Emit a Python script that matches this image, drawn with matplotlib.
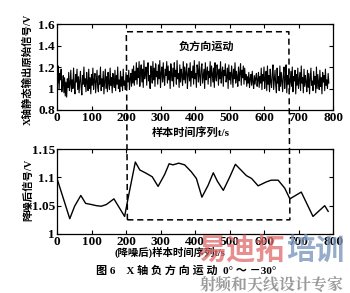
import matplotlib
matplotlib.use("Agg")
import matplotlib.pyplot as plt
from matplotlib.lines import Line2D

# ---- data ----
raw_step = 2
raw_values = [
    1.19, 1.05, 1.21, 0.99, 1.14, 1.08, 1.18, 0.97, 1.03, 1.12,
    0.96, 1.10, 0.93, 1.06, 0.92, 1.09, 1.01, 1.15, 0.98, 1.04,
    1.17, 0.97, 1.08, 1.00, 1.19, 1.03, 0.95, 1.13, 1.06, 1.18,
    0.99, 1.11, 0.96, 1.07, 1.16, 1.01, 0.94, 1.12, 1.04, 1.20,
    1.02, 1.09, 0.97, 1.15, 1.05, 0.98, 1.18, 1.00, 1.10, 0.95,
    1.13, 1.03, 1.19, 0.99, 1.08, 1.14, 0.96, 1.06, 1.17, 1.01,
    0.97, 1.12, 1.04, 1.20, 0.98, 1.09, 1.02, 1.16, 0.95, 1.07,
    1.18, 1.00, 1.11, 0.97, 1.15, 1.05, 0.99, 1.19, 1.03, 1.10,
    0.96, 1.14, 1.06, 1.01, 1.17, 0.98, 1.12, 1.04, 1.20, 1.00,
    1.08, 0.97, 1.16, 1.02, 1.11, 0.98, 1.18, 1.03, 1.07, 0.99,
    1.15, 1.01, 1.12, 1.06, 1.17, 0.99, 1.09, 1.14, 1.02, 1.18,
    1.05, 1.21, 1.03, 1.16, 1.08, 1.24, 1.04, 1.19, 1.10, 1.25,
    1.02, 1.15, 1.22, 1.06, 1.18, 1.01, 1.26, 1.09, 1.13, 1.20,
    1.03, 1.17, 1.24, 1.07, 1.12, 1.00, 1.21, 1.15, 1.05, 1.25,
    1.08, 1.19, 1.02, 1.23, 1.11, 1.16, 1.04, 1.22, 1.09, 1.26,
    1.01, 1.14, 1.20, 1.06, 1.24, 1.10, 1.03, 1.18, 1.12, 1.25,
    1.05, 1.21, 1.08, 1.16, 1.00, 1.23, 1.13, 1.07, 1.19, 1.02,
    1.24, 1.11, 1.17, 1.04, 1.26, 1.09, 1.14, 1.01, 1.22, 1.06,
    1.18, 1.12, 1.03, 1.25, 1.08, 1.20, 1.05, 1.15, 1.23, 1.00,
    1.13, 1.19, 1.07, 1.24, 1.02, 1.16, 1.10, 1.21, 1.04, 1.26,
    1.09, 1.14, 1.01, 1.22, 1.17, 1.06, 1.25, 1.11, 1.03, 1.19,
    1.23, 1.05, 1.12, 1.18, 1.00, 1.24, 1.08, 1.15, 1.20, 1.04,
    1.16, 1.10, 1.25, 1.02, 1.21, 1.13, 1.06, 1.19, 1.01, 1.24,
    1.11, 1.07, 1.22, 1.15, 1.03, 1.18, 1.09, 1.25, 1.05, 1.14,
    1.20, 1.02, 1.17, 1.12, 1.23, 1.06, 1.10, 1.19, 1.00, 1.22,
    1.08, 1.15, 1.04, 1.21, 1.13, 1.01, 1.18, 1.09, 1.24, 1.05,
    1.16, 1.11, 1.02, 1.20, 1.07, 1.14, 1.23, 1.03, 1.17, 1.10,
    1.21, 1.04, 1.19, 1.08, 1.13, 1.02, 1.11, 1.05, 1.15, 1.01,
    1.09, 1.13, 1.03, 1.16, 1.06, 1.00, 1.12, 1.04, 1.10, 1.14,
    1.02, 1.08, 1.15, 1.01, 1.11, 1.05, 1.19, 0.99, 1.13, 1.07,
    1.20, 1.00, 1.10, 1.16, 0.98, 1.21, 1.04, 1.12, 0.97, 1.18,
    1.06, 1.01, 1.14, 1.22, 0.99, 1.08, 1.17, 1.03, 0.96, 1.19,
    1.05, 1.11, 0.98, 1.21, 1.02, 1.15, 1.07, 0.97, 1.13, 1.20,
    1.00, 1.09, 1.22, 0.96, 1.12, 1.04, 1.18, 0.99, 1.06, 1.16,
    1.02, 1.20, 0.97, 1.11, 1.07, 1.17, 0.95, 1.13, 1.03, 1.19,
    1.00, 1.08, 1.15, 0.98, 1.21, 1.05, 1.10, 0.96, 1.18, 1.02,
    1.12, 1.06, 0.97, 1.17, 1.01, 1.14, 0.95, 1.09, 1.19, 1.03,
    1.07, 0.98, 1.16, 1.04, 1.11, 0.96, 1.20, 1.00, 1.13, 1.05,
    0.99, 1.17, 1.02, 1.10, 0.95, 1.15, 1.06, 1.12, 0.98, 1.18,
    1.03, 1.08, 1.00, 1.14, 1.05,
]
raw_t = [i * raw_step for i in range(len(raw_values))]

den_t = [0, 37, 51, 69, 83, 100, 114, 128, 143, 165, 196, 206, 227, 240,
         259, 276, 293, 312, 325, 336, 353, 370, 389, 404, 420, 438, 453,
         465, 482, 501, 517, 533, 549, 564, 583, 607, 621, 641, 660, 675,
         708, 742, 776, 786]
den_values = [1.098, 1.027, 1.049, 1.068, 1.054, 1.052, 1.050, 1.049, 1.052,
              1.062, 1.031, 1.063, 1.127, 1.113, 1.107, 1.101, 1.084, 1.105,
              1.124, 1.122, 1.125, 1.122, 1.110, 1.098, 1.065, 1.086, 1.108,
              1.093, 1.077, 1.101, 1.123, 1.113, 1.103, 1.098, 1.085, 1.092,
              1.095, 1.095, 1.081, 1.062, 1.074, 1.031, 1.050, 1.040]

x_ticks = [0, 100, 200, 300, 400, 500, 600, 700, 800]
top_yticks = [0.8, 1.0, 1.2, 1.4, 1.6]
top_yticklabels = ["0.8", "1", "1.2", "1.4", "1.6"]
bot_yticks = [1.0, 1.05, 1.1, 1.15]
bot_yticklabels = ["1", "1.05", "1.1", "1.15"]

top_ylabel = "X轴静态输出原始信号/V"
top_xlabel = "样本时间序列t/s"
bot_ylabel = "降噪后信号/V"
bot_xlabel = "(降噪后)样本时间序列t/s"
box_label = "负方向运动"
caption = "图 6    X 轴 负 方 向 运 动  0° ～ －30°"

# ---- style ----
MIX = ["Liberation Serif", "Noto Sans CJK SC", "DejaVu Sans"]
plt.rcParams["font.family"] = MIX
plt.rcParams["font.weight"] = "bold"

fig = plt.figure(figsize=(3.5, 2.93), dpi=100)
W, H = 350.0, 293.0

def axrect(l, t, r, b):
    return [l / W, 1 - b / H, (r - l) / W, (b - t) / H]

ax1 = fig.add_axes(axrect(57, 24, 333, 110))
ax2 = fig.add_axes(axrect(57, 149, 333, 234))

ax1.plot(raw_t, raw_values, color="black", lw=0.8)
ax2.plot(den_t, den_values, color="black", lw=1.0)

ax1.set_xlim(0, 800)
ax1.set_ylim(0.8, 1.6)
ax2.set_xlim(0, 800)
ax2.set_ylim(1.0, 1.15)

ax1.set_yticks(top_yticks)
ax1.set_yticklabels(top_yticklabels)
ax2.set_yticks(bot_yticks)
ax2.set_yticklabels(bot_yticklabels)

for ax in (ax1, ax2):
    ax.set_xticks(x_ticks)
    ax.set_xticklabels([str(v) for v in x_ticks])
    ax.tick_params(direction="in", top=True, right=True, length=3,
                   width=0.8, labelsize=9.5, pad=1.5)
    for lab in ax.get_xticklabels() + ax.get_yticklabels():
        lab.set_fontweight("bold")
    for s in ax.spines.values():
        s.set_linewidth(0.9)

ax1.text(434, 1.39, box_label, ha="center", va="center", fontsize=8,
         family=MIX, fontweight="bold")

fig.text(28 / W, 1 - 69 / H, top_ylabel, rotation=90, ha="center",
         va="center", fontsize=7.5, family=MIX, fontweight="bold")
fig.text(191 / W, 1 - 132 / H, top_xlabel, ha="center", va="center",
         fontsize=8, family=MIX, fontweight="bold")
fig.text(28 / W, 1 - 190 / H, bot_ylabel, rotation=90, ha="center",
         va="center", fontsize=7.5, family=MIX, fontweight="bold")
fig.text(170 / W, 1 - 252 / H, bot_xlabel, ha="center", va="center",
         fontsize=7.5, family=MIX, fontweight="bold")
fig.text(186 / W, 1 - 271 / H, caption, ha="center", va="center",
         fontsize=8, family=MIX, fontweight="bold")

# watermark
fig.text(197 / W, 1 - 250 / H, "易迪拓", ha="left", va="center",
         fontsize=21, family=["Noto Sans CJK SC"], fontweight="bold",
         color="#e06a6a", alpha=0.75)
fig.text(344 / W, 1 - 250 / H, "培训", ha="right", va="center",
         fontsize=21, family=["Noto Sans CJK SC"], fontweight="bold",
         color="#7b98bd", alpha=0.8)
fig.text(272 / W, 1 - 285 / H, "射频和天线设计专家", ha="center",
         va="center", fontsize=11.5, family=["Noto Serif CJK SC", "Noto Sans CJK SC"],
         color="#9a9a9a")

# dashed "negative direction" box spanning both axes
fig.canvas.draw()
inv = fig.transFigure.inverted()
p_tl = inv.transform(ax1.transData.transform((201, 1.528)))
p_tr = inv.transform(ax1.transData.transform((672, 1.528)))
p_bl = inv.transform(ax2.transData.transform((204, 1.025)))
p_br = inv.transform(ax2.transData.transform((675, 1.025)))
xs = [p_bl[0], p_tl[0], p_tr[0], p_br[0], p_bl[0]]
ys = [p_bl[1], p_tl[1], p_tr[1], p_br[1], p_bl[1]]
fig.add_artist(Line2D(xs, ys, transform=fig.transFigure, color="black",
                      lw=1.1, linestyle=(0, (4, 2.5)), zorder=5))

fig.savefig("out.png", dpi=100)
